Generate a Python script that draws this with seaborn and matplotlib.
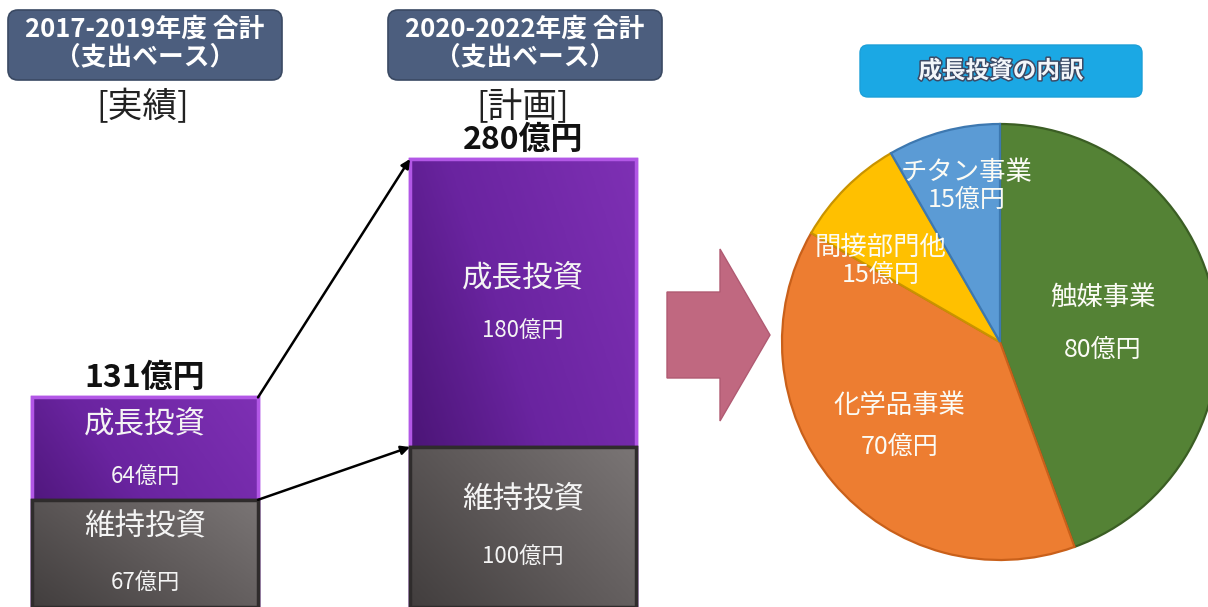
import numpy as np
import pandas as pd
import matplotlib
matplotlib.use("Agg")
import matplotlib.pyplot as plt
import seaborn as sns
from matplotlib.patches import FancyBboxPatch, Polygon, Rectangle
from matplotlib.colors import LinearSegmentedColormap
import matplotlib.patheffects as pe

# ---------------- data ----------------
periods = ["2017-2019年度", "2020-2022年度"]
header_texts = ["2017-2019年度 合計\n（支出ベース）", "2020-2022年度 合計\n（支出ベース）"]
status_texts = ["[実績]", "[計画]"]
growth = [64, 180]
maintain = [67, 100]
totals = [131, 280]
growth_name = "成長投資"
maintain_name = "維持投資"
unit = "億円"

pie_title = "成長投資の内訳"
pie_labels = ["触媒事業", "化学品事業", "間接部門他", "チタン事業"]
pie_values = [80, 70, 15, 15]

# ---------------- style ----------------
sns.set_style("white")
plt.rcParams["font.family"] = ["Noto Sans CJK JP", "DejaVu Sans"]

W, H = 1208, 607
fig = plt.figure(figsize=(W / 100, H / 100), dpi=100)
fig.patch.set_facecolor("white")

# overlay axes in pixel coordinates (for boxes / free text)
ov = fig.add_axes([0, 0, 1, 1])
ov.set_xlim(0, W)
ov.set_ylim(H, 0)
ov.axis("off")

# ---------------- stacked bars ----------------
bar_px = 660
px_per_cat = 378.0
c0 = 145.0
bw = 226.0 / px_per_cat
px_per_unit = 1.6

bx = fig.add_axes([0, 0, bar_px / W, 1])
df = pd.DataFrame({"period": periods, "growth": growth,
                   "maintain": maintain, "total": totals})

purple = "#5e1d8e"
gray = "#5f5a5a"
sns.barplot(data=df, x="period", y="total", color=purple, saturation=1,
            width=bw, errorbar=None, ax=bx, edgecolor="#b257e6",
            linewidth=2.5, zorder=1)
sns.barplot(data=df, x="period", y="maintain", color=gray, saturation=1,
            width=bw, errorbar=None, ax=bx, edgecolor="#2f2c2c",
            linewidth=2.5, zorder=3)
patches = list(bx.patches)
top_patches = patches[:2]
low_patches = patches[2:4]

cm_p = LinearSegmentedColormap.from_list("p", ["#3f0f66", "#6a24a0", "#7e30b4"])
cm_g = LinearSegmentedColormap.from_list("g", ["#423e3e", "#5f5a5a", "#7a7575"])
xx, yy = np.meshgrid(np.linspace(0, 1, 80), np.linspace(0, 1, 80))
grad = (xx * 0.6 + yy * 0.4)

for plist, cmap, ec, z in [(top_patches, cm_p, "#b257e6", 1),
                          (low_patches, cm_g, "#2f2c2c", 3)]:
    for p in plist:
        x0, y0, w, h = p.get_x(), p.get_y(), p.get_width(), p.get_height()
        im = bx.imshow(grad, cmap=cmap, origin="lower", aspect="auto",
                       extent=(x0, x0 + w, y0, y0 + h), zorder=z + 0.5,
                       interpolation="bilinear")
        im.set_clip_path(p)
        bx.add_patch(Rectangle((x0, y0), w, h, fill=False, edgecolor=ec,
                               linewidth=2.5, zorder=z + 0.8))

txt_kw = dict(textcoords="offset points", ha="center", va="center",
              color="#f4f4f4", zorder=10)
for i in range(2):
    p = top_patches[i]
    cx = p.get_x() + p.get_width() / 2
    mid_g = (maintain[i] + totals[i]) / 2
    mid_m = maintain[i] / 2
    bx.annotate(growth_name, (cx, mid_g), xytext=(0, 18), fontsize=22, **txt_kw)
    bx.annotate(f"{growth[i]}{unit}", (cx, mid_g), xytext=(0, -20), fontsize=16, **txt_kw)
    bx.annotate(maintain_name, (cx, mid_m), xytext=(0, 20), fontsize=22, **txt_kw)
    bx.annotate(f"{maintain[i]}{unit}", (cx, mid_m), xytext=(0, -21), fontsize=16, **txt_kw)
    bx.annotate(f"{totals[i]}{unit}", (cx, totals[i]), xytext=(0, 14),
                textcoords="offset points", ha="center", va="center",
                fontsize=23, fontweight="bold", color="#111111", zorder=10)

# connecting arrows
p1, p2 = top_patches
x1r = p1.get_x() + p1.get_width()
x2l = p2.get_x()
arrow_kw = dict(arrowstyle="-|>", color="black", lw=1.8, mutation_scale=13,
                shrinkA=0, shrinkB=0)
bx.annotate("", xy=(x2l, totals[1]), xytext=(x1r, totals[0]), arrowprops=arrow_kw, zorder=6)
bx.annotate("", xy=(x2l, maintain[1]), xytext=(x1r, maintain[0]), arrowprops=arrow_kw, zorder=6)

bx.set_xlim(-c0 / px_per_cat, (bar_px - c0) / px_per_cat)
bx.set_ylim(0, H / px_per_unit)
bx.axis("off")

# headers & status text
for cxp, head, st in zip([145, 525], header_texts, status_texts):
    ov.add_patch(FancyBboxPatch((cxp - 137, 10), 274, 70,
                                boxstyle="round,pad=0,rounding_size=10",
                                fc="#4c5e7e", ec="#3a4963", lw=1.2))
    ov.text(cxp, 43, head, ha="center", va="center", color="white",
            fontsize=18.5, fontweight="bold", linespacing=1.02)
    ov.text(cxp - 2, 108, st, ha="center", va="center", color="#222222",
            fontsize=25)

# block arrow
ov.add_patch(Polygon([(667, 292), (720, 292), (720, 249), (770, 335),
                      (720, 421), (720, 378), (667, 378)],
                     closed=True, fc="#c06880", ec="#b05a72", lw=1))

# pie title
ov.add_patch(FancyBboxPatch((860, 45), 282, 52,
                            boxstyle="round,pad=0,rounding_size=8",
                            fc="#1ba8e4", ec="#1b9fd8", lw=1))
ov.text(1001, 71, pie_title, ha="center", va="center", color="#f2f6fa",
        fontsize=17, fontweight="bold",
        path_effects=[pe.withStroke(linewidth=2.2, foreground="#3b4a66")])

# ---------------- pie ----------------
pcx, pcy, pr = 1000, 342, 218
pax = fig.add_axes([(pcx - pr) / W, (H - pcy - pr) / H, 2 * pr / W, 2 * pr / H])
pie_colors = ["#548235", "#ed7d31", "#ffc000", "#5b9bd5"]
pie_edges = ["#3b5e24", "#c9601a", "#c99300", "#3d78b0"]
wedges, _ = pax.pie(pie_values, colors=pie_colors, startangle=90,
                    counterclock=False, radius=1,
                    wedgeprops=dict(linewidth=1.6))
for wdg, ec in zip(wedges, pie_edges):
    wdg.set_edgecolor(ec)
pax.set_xlim(-1, 1)
pax.set_ylim(-1, 1)
pax.set_aspect("equal")
pax.axis("off")

label_r = [0.48, 0.60, 0.66, 0.73]
label_dang = [0, 0, 11, -3]
label_gap = [38, 30, 20, 20]  # points between name and value
for wdg, lab, val, r, da, gap in zip(wedges, pie_labels, pie_values,
                                     label_r, label_dang, label_gap):
    ang = np.deg2rad((wdg.theta1 + wdg.theta2) / 2 + da)
    lx, ly = r * np.cos(ang), r * np.sin(ang)
    pax.annotate(lab, (lx, ly), xytext=(0, gap / 2), textcoords="offset points",
                 ha="center", va="center", color="#fbfbf5", fontsize=19,
                 annotation_clip=False)
    pax.annotate(f"{val}{unit}", (lx, ly), xytext=(0, -gap / 2),
                 textcoords="offset points", ha="center", va="center",
                 color="#fbfbf5", fontsize=18, annotation_clip=False)

fig.savefig("out.png", dpi=100, facecolor="white")
